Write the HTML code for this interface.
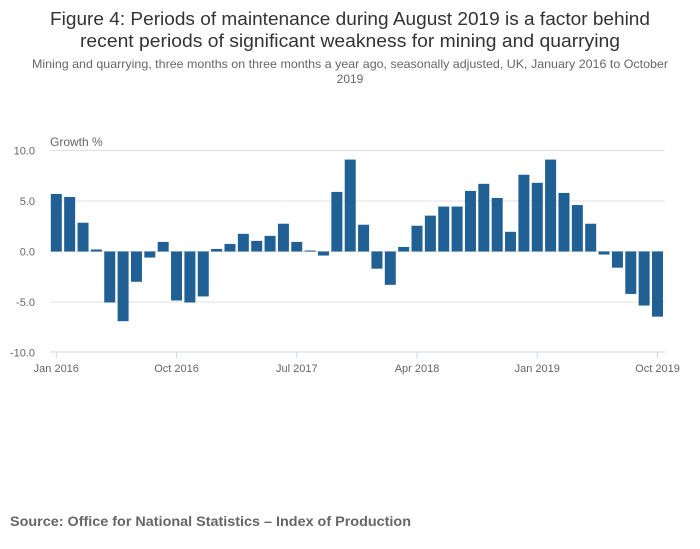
<!DOCTYPE html>
<html><head><meta charset="utf-8"><style>
body{margin:0;background:#fff;}
svg{display:block;font-family:"Liberation Sans",sans-serif;}
</style></head><body>
<svg id="chart" width="700" height="549" viewBox="0 0 700 549">
<text x="350" y="25" text-anchor="middle" font-size="18" fill="#333" textLength="600" lengthAdjust="spacingAndGlyphs">Figure 4: Periods of maintenance during August 2019 is a factor behind</text>
<text x="350" y="47" text-anchor="middle" font-size="18" fill="#333" textLength="540" lengthAdjust="spacingAndGlyphs">recent periods of significant weakness for mining and quarrying</text>
<text x="350" y="68" text-anchor="middle" font-size="12" fill="#666" textLength="636" lengthAdjust="spacingAndGlyphs">Mining and quarrying, three months on three months a year ago, seasonally adjusted, UK, January 2016 to October</text>
<text x="350" y="83" text-anchor="middle" font-size="12" fill="#666">2019</text>
<text x="50" y="146" font-size="12" fill="#666">Growth %</text>
<g id="grid"></g><g id="bars"></g><g id="axes"></g>
<text x="10" y="526" font-size="14" font-weight="bold" fill="#666" textLength="401" lengthAdjust="spacingAndGlyphs">Source: Office for National Statistics – Index of Production</text>
</svg>
<script>
const values = [5.7,5.4,2.85,0.2,-5.05,-6.9,-3.0,-0.6,0.95,-4.85,-5.05,-4.45,0.25,0.75,1.75,1.05,1.55,2.75,0.95,0.1,-0.4,5.9,9.1,2.65,-1.7,-3.3,0.45,2.55,3.55,4.45,4.45,6.0,6.7,5.3,1.95,7.6,6.8,9.1,5.8,4.6,2.75,-0.3,-1.6,-4.2,-5.35,-6.45];
const yTicks = [10,5,0,-5,-10];
const yTickLabels = ["10.0","5.0","0.0","-5.0","-10.0"];
const xTickIndex = [0,9,18,27,36,45];
const xTickLabels = ["Jan 2016","Oct 2016","Jul 2017","Apr 2018","Jan 2019","Oct 2019"];
const NS="http://www.w3.org/2000/svg";
const x0=56.3, step=13.36, bw=11, left=50, right=665;
const xs=i=>x0+i*step;
const ys=v=>251.5-v*10.1;
function mk(tag,attrs,parent){const e=document.createElementNS(NS,tag);for(const k in attrs)e.setAttribute(k,attrs[k]);parent.appendChild(e);return e;}
const grid=document.getElementById('grid'),bars=document.getElementById('bars'),axes=document.getElementById('axes');
yTicks.forEach((t,i)=>{
  if(t!==-10){const l=mk('line',{x1:left,x2:right,y1:ys(t),y2:ys(t),stroke:'#e0e0e0','stroke-width':1},grid);
  
  }
  const tx=mk('text',{x:35,y:ys(t)+4,'text-anchor':'end','font-size':11,fill:'#666'},axes);
  tx.textContent=yTickLabels[i];
  
  
});
values.forEach((v,i)=>{
  const y=Math.min(ys(v),ys(0)),h=Math.abs(ys(v)-ys(0));
  const r=mk('rect',{x:xs(i)-bw/2,y:y,width:bw,height:Math.max(h,0.5),fill:'#206095'},bars);
  
  
});
const ax=mk('line',{x1:left,x2:right,y1:352,y2:352,stroke:'#ccd6eb','stroke-width':1},axes);


xTickIndex.forEach((k,i)=>{
  const t=mk('line',{x1:xs(k),x2:xs(k),y1:352,y2:358,stroke:'#ccd6eb','stroke-width':1},axes);
  
  
  const tx=mk('text',{x:xs(k),y:372,'text-anchor':'middle','font-size':11,fill:'#666'},axes);
  tx.textContent=xTickLabels[i];
  
  
});
</script>
</body></html>
